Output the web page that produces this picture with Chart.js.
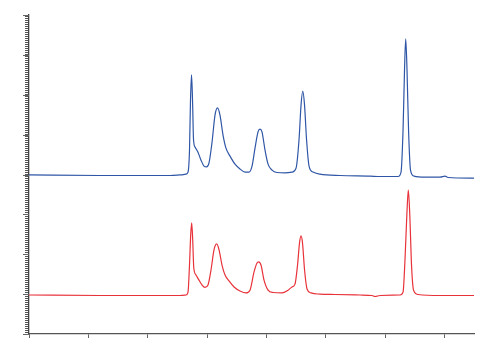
<!DOCTYPE html>
<html>
<head>
<meta charset="utf-8">
<script src="https://cdn.jsdelivr.net/npm/chart.js@4/dist/chart.umd.min.js"></script>
<style>
  html, body { margin: 0; padding: 0; background: #fff; }
</style>
</head>
<body>
<canvas id="myChart" width="500" height="361"></canvas>
<script>
// retention time (x) and detector signal (y)
const timeBlue = [0, 1.197, 2.377, 2.545, 2.646, 2.68, 2.705, 2.722, 2.739, 2.756, 2.773, 2.798, 2.848, 2.899, 2.95, 2.992, 3.034, 3.085, 3.135, 3.177, 3.219, 3.27, 3.32, 3.388, 3.472, 3.556, 3.641, 3.708, 3.759, 3.809, 3.86, 3.893, 3.927, 3.978, 4.029, 4.096, 4.18, 4.315, 4.433, 4.501, 4.551, 4.585, 4.614, 4.644, 4.678, 4.72, 4.787, 4.905, 5.242, 5.747, 5.916, 6.22, 6.27, 6.304, 6.329, 6.349, 6.371, 6.397, 6.43, 6.489, 6.675, 6.928, 7.012, 7.062, 7.5];
const signalBlue = [3.99, 3.975, 3.975, 3.99, 4.01, 4.06, 4.61, 5.87, 6.5, 5.87, 4.87, 4.69, 4.56, 4.36, 4.21, 4.19, 4.29, 4.81, 5.49, 5.67, 5.49, 4.99, 4.66, 4.46, 4.26, 4.14, 4.06, 4.06, 4.21, 4.66, 5.07, 5.14, 5.07, 4.61, 4.26, 4.11, 4.05, 4.04, 4.06, 4.16, 4.87, 5.74, 6.09, 5.74, 4.87, 4.21, 4.06, 4.01, 3.975, 3.96, 3.95, 3.95, 4.06, 5.11, 6.62, 7.4, 6.62, 5.11, 4.11, 3.96, 3.935, 3.935, 3.96, 3.925, 3.91];

const timeRed = [0, 1.197, 2.545, 2.646, 2.68, 2.705, 2.725, 2.742, 2.759, 2.777, 2.814, 2.865, 2.916, 2.966, 3.017, 3.068, 3.118, 3.164, 3.203, 3.253, 3.304, 3.371, 3.456, 3.556, 3.657, 3.725, 3.792, 3.843, 3.871, 3.91, 3.961, 4.029, 4.113, 4.265, 4.366, 4.433, 4.483, 4.526, 4.559, 4.585, 4.61, 4.644, 4.686, 4.753, 4.905, 5.158, 5.579, 5.781, 5.832, 5.916, 6.253, 6.304, 6.337, 6.368, 6.393, 6.418, 6.447, 6.481, 6.557, 6.928, 7.5];
const signalRed = [0.978, 0.966, 0.966, 0.978, 1.05, 1.73, 2.48, 2.79, 2.36, 1.66, 1.48, 1.35, 1.23, 1.17, 1.23, 1.61, 2.11, 2.26, 2.11, 1.73, 1.48, 1.33, 1.18, 1.08, 1.03, 1.1, 1.55, 1.78, 1.81, 1.73, 1.35, 1.1, 1.04, 1.03, 1.1, 1.18, 1.25, 1.73, 2.28, 2.46, 2.28, 1.61, 1.13, 1.03, 1.0, 0.99, 0.978, 0.966, 0.94, 0.966, 0.978, 1.05, 1.86, 2.98, 3.61, 2.98, 1.73, 1.1, 0.99, 0.966, 0.966];

const xTicks = [0, 1, 2, 3, 4, 5, 6, 7];
const yMajorTicks = [0, 1, 2, 3, 4, 5, 6, 7, 8];

const toPoints = (xs, ys) => xs.map((x, i) => ({ x: x, y: ys[i] }));

// minor ticks on the y axis, 20 per major step
const yMinorTicks = [];
for (let i = 0; i <= 160; i++) yMinorTicks.push({ value: i * 0.05 });

// longer marks for the major y ticks
const majorTickPlugin = {
    id: 'majorTicks',
    afterDraw(chart) {
        const ys = chart.scales.y;
        const c = chart.ctx;
        c.save();
        c.strokeStyle = '#666';
        c.lineWidth = 1;
        yMajorTicks.forEach(v => {
            const p = Math.round(ys.getPixelForValue(v)) + 0.5;
            c.beginPath();
            c.moveTo(ys.right - 6, p);
            c.lineTo(ys.right, p);
            c.stroke();
        });
        c.restore();
    }
};

const ctx = document.querySelector('#myChart');
const myChart = new Chart(ctx, {
    type: 'line',
    data: {
        datasets: [{
            data: toPoints(timeBlue, signalBlue),
            borderColor: '#2f56a6',
            borderWidth: 1.2,
            pointRadius: 0,
            cubicInterpolationMode: 'monotone'
        }, {
            data: toPoints(timeRed, signalRed),
            borderColor: '#e8323a',
            borderWidth: 1.2,
            pointRadius: 0,
            cubicInterpolationMode: 'monotone'
        }]
    },
    options: {
        responsive: false,
        animation: false,
        layout: { padding: { top: 15, right: 26, left: 0, bottom: 0 } },
        plugins: { legend: { display: false }, tooltip: { enabled: false } },
        scales: {
            x: {
                type: 'linear',
                min: 0,
                max: 7.5,
                afterBuildTicks: s => { s.ticks = xTicks.map(v => ({ value: v })); },
                afterFit: s => { s.height = 27; },
                ticks: { display: false },
                grid: { drawOnChartArea: false, tickLength: 4, tickColor: '#666' },
                border: { color: '#555', width: 1.3 }
            },
            y: {
                type: 'linear',
                min: 0,
                max: 8,
                afterBuildTicks: s => { s.ticks = yMinorTicks.slice(); },
                afterFit: s => { s.width = 29; },
                ticks: { display: false, autoSkip: false },
                grid: { drawOnChartArea: false, tickLength: 4, tickColor: '#555' },
                border: { color: '#444', width: 1.3 }
            }
        }
    },
    plugins: [majorTickPlugin]
});
</script>
</body>
</html>
